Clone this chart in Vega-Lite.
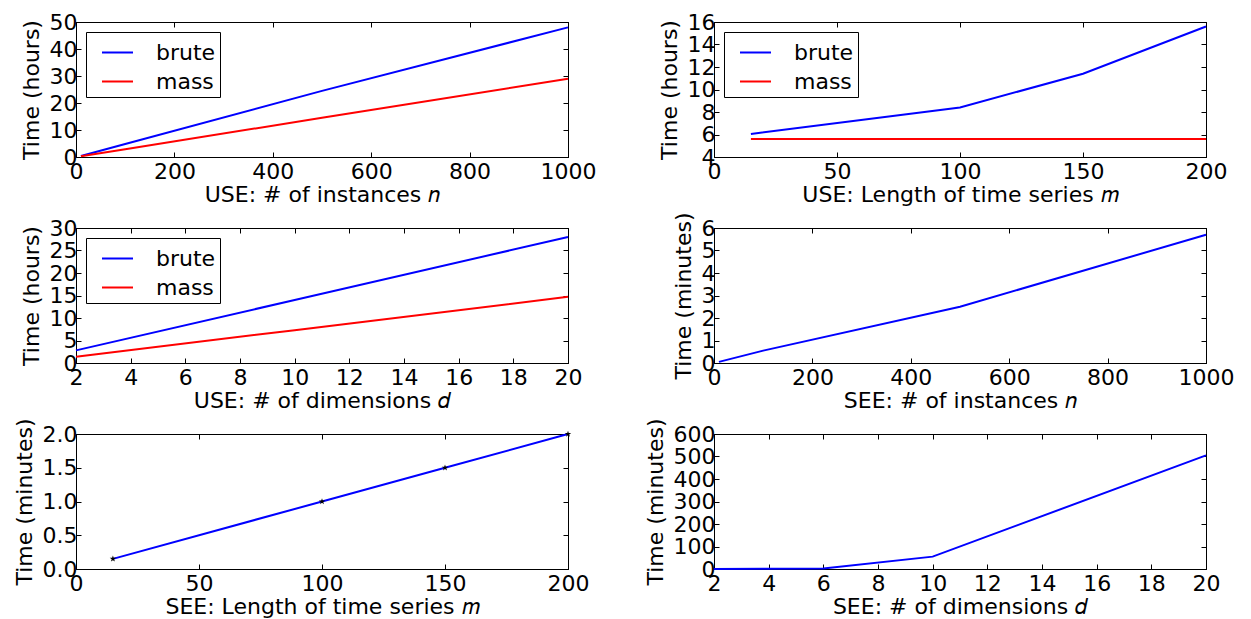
{
  "$schema": "https://vega.github.io/schema/vega-lite/v6.json",
  "background": "white",
  "padding": {"left": 12, "top": 10, "right": 10, "bottom": 2},
  "columns": 2,
  "spacing": {"row": 71, "column": 146},
  "bounds": "flush",
  "resolve": {"scale": {"color": "independent"}},
  "datasets": {
    "p1": [
      {"x": 10, "t": 0.4, "method": "brute"}, {"x": 100, "t": 4.8, "method": "brute"}, {"x": 500, "t": 24.5, "method": "brute"}, {"x": 1000, "t": 48, "method": "brute"},
      {"x": 10, "t": 0.3, "method": "mass"}, {"x": 100, "t": 2.9, "method": "mass"}, {"x": 500, "t": 14.5, "method": "mass"}, {"x": 1000, "t": 29, "method": "mass"}
    ],
    "p2": [
      {"x": 15, "t": 6.05, "method": "brute"}, {"x": 100, "t": 8.4, "method": "brute"}, {"x": 150, "t": 11.4, "method": "brute"}, {"x": 200, "t": 15.6, "method": "brute"},
      {"x": 15, "t": 5.6, "method": "mass"}, {"x": 100, "t": 5.6, "method": "mass"}, {"x": 150, "t": 5.6, "method": "mass"}, {"x": 200, "t": 5.6, "method": "mass"}
    ],
    "p3": [
      {"x": 2, "t": 2.8, "method": "brute"}, {"x": 10, "t": 14.0, "method": "brute"}, {"x": 20, "t": 28.0, "method": "brute"},
      {"x": 2, "t": 1.4, "method": "mass"}, {"x": 10, "t": 7.3, "method": "mass"}, {"x": 20, "t": 14.7, "method": "mass"}
    ],
    "p4": [
      {"x": 10, "t": 0.05}, {"x": 100, "t": 0.55}, {"x": 500, "t": 2.5}, {"x": 1000, "t": 5.7}
    ],
    "p5": [
      {"x": 15, "t": 0.15}, {"x": 100, "t": 1.0}, {"x": 150, "t": 1.5}, {"x": 200, "t": 2.0}
    ],
    "p6": [
      {"x": 2, "t": 0.5}, {"x": 4, "t": 0.8}, {"x": 6, "t": 2}, {"x": 10, "t": 55}, {"x": 20, "t": 505}
    ]
  },
  "concat": [
    {
      "width": 492, "height": 135,
      "data": {"name": "p1"},
      "layer": [
        {
          "mark": {"type": "line", "strokeWidth": 2},
          "encoding": {
            "x": {"field": "x", "type": "quantitative", "scale": {"domain": [0, 1000], "nice": false, "zero": false}, "axis": {"values": [0, 200, 400, 600, 800, 1000], "format": "d", "title": "USE: # of instances 𝑛"}},
            "y": {"field": "t", "type": "quantitative", "scale": {"domain": [0, 50], "nice": false, "zero": false}, "axis": {"values": [0, 10, 20, 30, 40, 50], "title": "Time (hours)"}},
            "color": {"field": "method", "type": "nominal", "scale": {"domain": ["brute", "mass"], "range": ["#0000ff", "#ff0000"]}, "legend": {"title": null, "orient": "top-left"}}
          }
        },
        {
          "mark": {"type": "line", "opacity": 0},
          "encoding": {
            "x": {"field": "x", "type": "quantitative", "axis": {"orient": "top", "values": [0, 200, 400, 600, 800, 1000], "labels": false, "title": null}},
            "y": {"field": "t", "type": "quantitative", "axis": {"orient": "right", "values": [0, 10, 20, 30, 40, 50], "labels": false, "title": null}},
            "detail": {"field": "method"}
          }
        }
      ],
      "resolve": {"axis": {"x": "independent", "y": "independent"}}
    },
    {
      "width": 492, "height": 135,
      "data": {"name": "p2"},
      "layer": [
        {
          "mark": {"type": "line", "strokeWidth": 2},
          "encoding": {
            "x": {"field": "x", "type": "quantitative", "scale": {"domain": [0, 200], "nice": false, "zero": false}, "axis": {"values": [0, 50, 100, 150, 200], "title": "USE: Length of time series 𝑚"}},
            "y": {"field": "t", "type": "quantitative", "scale": {"domain": [4, 16], "nice": false, "zero": false}, "axis": {"values": [4, 6, 8, 10, 12, 14, 16], "title": "Time (hours)"}},
            "color": {"field": "method", "type": "nominal", "scale": {"domain": ["brute", "mass"], "range": ["#0000ff", "#ff0000"]}, "legend": {"title": null, "orient": "top-left"}}
          }
        },
        {
          "mark": {"type": "line", "opacity": 0},
          "encoding": {
            "x": {"field": "x", "type": "quantitative", "axis": {"orient": "top", "values": [0, 50, 100, 150, 200], "labels": false, "title": null}},
            "y": {"field": "t", "type": "quantitative", "axis": {"orient": "right", "values": [4, 6, 8, 10, 12, 14, 16], "labels": false, "title": null}},
            "detail": {"field": "method"}
          }
        }
      ],
      "resolve": {"axis": {"x": "independent", "y": "independent"}}
    },
    {
      "width": 492, "height": 135,
      "data": {"name": "p3"},
      "layer": [
        {
          "mark": {"type": "line", "strokeWidth": 2},
          "encoding": {
            "x": {"field": "x", "type": "quantitative", "scale": {"domain": [2, 20], "nice": false, "zero": false}, "axis": {"values": [2, 4, 6, 8, 10, 12, 14, 16, 18, 20], "title": "USE: # of dimensions 𝑑"}},
            "y": {"field": "t", "type": "quantitative", "scale": {"domain": [0, 30], "nice": false, "zero": false}, "axis": {"values": [0, 5, 10, 15, 20, 25, 30], "title": "Time (hours)"}},
            "color": {"field": "method", "type": "nominal", "scale": {"domain": ["brute", "mass"], "range": ["#0000ff", "#ff0000"]}, "legend": {"title": null, "orient": "top-left"}}
          }
        },
        {
          "mark": {"type": "line", "opacity": 0},
          "encoding": {
            "x": {"field": "x", "type": "quantitative", "axis": {"orient": "top", "values": [2, 4, 6, 8, 10, 12, 14, 16, 18, 20], "labels": false, "title": null}},
            "y": {"field": "t", "type": "quantitative", "axis": {"orient": "right", "values": [0, 5, 10, 15, 20, 25, 30], "labels": false, "title": null}},
            "detail": {"field": "method"}
          }
        }
      ],
      "resolve": {"axis": {"x": "independent", "y": "independent"}}
    },
    {
      "width": 492, "height": 135,
      "data": {"name": "p4"},
      "layer": [
        {
          "mark": {"type": "line", "strokeWidth": 2, "color": "#0000ff"},
          "encoding": {
            "x": {"field": "x", "type": "quantitative", "scale": {"domain": [0, 1000], "nice": false, "zero": false}, "axis": {"values": [0, 200, 400, 600, 800, 1000], "format": "d", "title": "SEE: # of instances 𝑛"}},
            "y": {"field": "t", "type": "quantitative", "scale": {"domain": [0, 6], "nice": false, "zero": false}, "axis": {"values": [0, 1, 2, 3, 4, 5, 6], "title": "Time (minutes)"}}
          }
        },
        {
          "mark": {"type": "line", "opacity": 0},
          "encoding": {
            "x": {"field": "x", "type": "quantitative", "axis": {"orient": "top", "values": [0, 200, 400, 600, 800, 1000], "labels": false, "title": null}},
            "y": {"field": "t", "type": "quantitative", "axis": {"orient": "right", "values": [0, 1, 2, 3, 4, 5, 6], "labels": false, "title": null}}
          }
        }
      ],
      "resolve": {"axis": {"x": "independent", "y": "independent"}}
    },
    {
      "width": 492, "height": 135,
      "data": {"name": "p5"},
      "layer": [
        {
          "mark": {"type": "line", "strokeWidth": 2, "color": "#0000ff"},
          "encoding": {
            "x": {"field": "x", "type": "quantitative", "scale": {"domain": [0, 200], "nice": false, "zero": false}, "axis": {"values": [0, 50, 100, 150, 200], "title": "SEE: Length of time series 𝑚"}},
            "y": {"field": "t", "type": "quantitative", "scale": {"domain": [0, 2], "nice": false, "zero": false}, "axis": {"values": [0, 0.5, 1, 1.5, 2], "format": ".1f", "title": "Time (minutes)"}}
          }
        },
        {
          "mark": {"type": "point", "filled": true, "color": "black", "opacity": 1, "size": 45, "shape": "M0,-1L0.2245,-0.309L0.951,-0.309L0.363,0.118L0.588,0.809L0,0.382L-0.588,0.809L-0.363,0.118L-0.951,-0.309L-0.2245,-0.309Z"},
          "encoding": {
            "x": {"field": "x", "type": "quantitative", "axis": {"orient": "top", "values": [0, 50, 100, 150, 200], "labels": false, "title": null}},
            "y": {"field": "t", "type": "quantitative", "axis": {"orient": "right", "values": [0, 0.5, 1, 1.5, 2], "labels": false, "title": null}}
          }
        }
      ],
      "resolve": {"axis": {"x": "independent", "y": "independent"}}
    },
    {
      "width": 492, "height": 135,
      "data": {"name": "p6"},
      "layer": [
        {
          "mark": {"type": "line", "strokeWidth": 2, "color": "#0000ff"},
          "encoding": {
            "x": {"field": "x", "type": "quantitative", "scale": {"domain": [2, 20], "nice": false, "zero": false}, "axis": {"values": [2, 4, 6, 8, 10, 12, 14, 16, 18, 20], "title": "SEE: # of dimensions 𝑑"}},
            "y": {"field": "t", "type": "quantitative", "scale": {"domain": [0, 600], "nice": false, "zero": false}, "axis": {"values": [0, 100, 200, 300, 400, 500, 600], "title": "Time (minutes)"}}
          }
        },
        {
          "mark": {"type": "line", "opacity": 0},
          "encoding": {
            "x": {"field": "x", "type": "quantitative", "axis": {"orient": "top", "values": [2, 4, 6, 8, 10, 12, 14, 16, 18, 20], "labels": false, "title": null}},
            "y": {"field": "t", "type": "quantitative", "axis": {"orient": "right", "values": [0, 100, 200, 300, 400, 500, 600], "labels": false, "title": null}}
          }
        }
      ],
      "resolve": {"axis": {"x": "independent", "y": "independent"}}
    }
  ],
  "config": {
    "font": "DejaVu Sans",
    "view": {"stroke": "black", "strokeWidth": 1},
    "axis": {
      "grid": false,
      "domainColor": "black",
      "domainWidth": 1,
      "tickColor": "black",
      "tickSize": -5,
      "tickWidth": 1,
      "labelFont": "DejaVu Sans",
      "labelFontSize": 22,
      "labelColor": "black",
      "labelPadding": 4,
      "labelOverlap": false,
      "labelFlush": false,
      "labelBound": false,
      "titleFont": "DejaVu Sans",
      "titleFontSize": 22,
      "titleFontWeight": "normal",
      "titleColor": "black",
      "titlePadding": 2
    },
    "axisX": {"labelPadding": 9, "titlePadding": 2},
    "axisY": {"labelPadding": 4, "titlePadding": 6},
    "legend": {
      "offset": 10,
      "padding": 4,
      "strokeColor": "black",
      "fillColor": "white",
      "symbolType": "stroke",
      "symbolSize": 961,
      "symbolStrokeWidth": 2,
      "symbolOffset": 11,
      "labelFont": "DejaVu Sans",
      "labelFontSize": 22,
      "labelColor": "black",
      "labelOffset": 22,
      "rowPadding": 1,
      "cornerRadius": 0
    }
  }
}
